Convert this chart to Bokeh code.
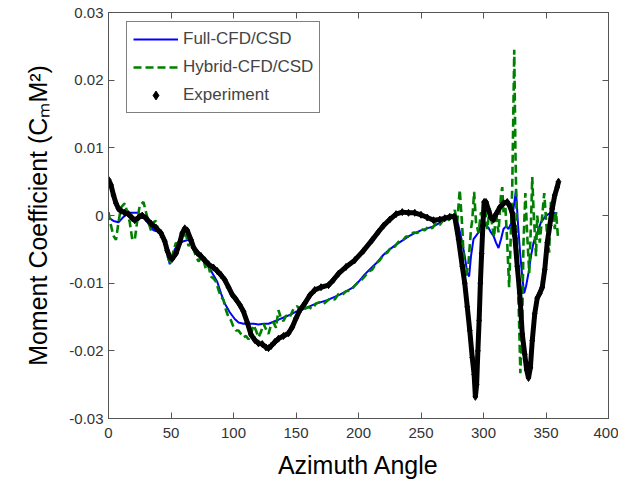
from bokeh.plotting import figure
from bokeh.models import (Range1d, LinearAxis, FixedTicker, CustomJSTickFormatter,
                          Legend, LegendItem)
from bokeh.embed import file_html
from bokeh.resources import INLINE

# ---------------- data ----------------
exp_angle = [0, 2, 4, 6, 8, 10, 13, 16, 19, 21, 24, 27, 30, 34, 38, 42, 45, 47, 49, 51,
             54, 57, 59, 61, 63, 66, 68, 71, 74, 77, 80, 84, 87, 90, 93, 96, 99, 102, 105, 108,
             111, 114, 117, 120, 123, 126, 128, 130, 133, 136, 140, 144, 147, 150, 153, 157, 161, 165, 170, 176,
             180, 184, 190, 197, 204, 211, 216, 220, 225, 230, 235, 240, 245, 250, 255, 260, 265, 269, 273, 277,
             280, 283, 285, 287, 289, 291, 292.5, 293.5, 294.5, 295.5, 296.5, 297.5, 298.5, 299.5, 300.5,
             302, 304, 306, 308, 310, 313, 316, 319, 321, 323, 325, 327, 329, 331, 333, 334.5, 336, 337.5,
             339, 341, 343, 345, 347, 349, 351, 353, 355, 357, 359, 360]
exp_cm = [0.0053, 0.0045, 0.0030, 0.0018, 0.0010, 0.0007, 0.0004, 0.0002, -0.0004, -0.0007,
          -0.0003, 0.0000, -0.0004, -0.0012, -0.0018, -0.0026, -0.0038, -0.0052, -0.0061, -0.0064,
          -0.0056, -0.0040, -0.0026, -0.0019, -0.0022, -0.0036, -0.0047, -0.0055, -0.0060, -0.0066,
          -0.0072, -0.0077, -0.0082, -0.0088, -0.0095, -0.0106, -0.0117, -0.0124, -0.0132, -0.0142,
          -0.0158, -0.0176, -0.0184, -0.0189, -0.0190, -0.0195, -0.0196, -0.0193, -0.0187, -0.0182,
          -0.0178, -0.0174, -0.0165, -0.0152, -0.0140, -0.0130, -0.0118, -0.0110, -0.0106, -0.0103,
          -0.0095, -0.0086, -0.0076, -0.0066, -0.0052, -0.0036, -0.0024, -0.0015, -0.0006, 0.0002,
          0.0005, 0.0004, 0.0004, 0.0001, -0.0003, -0.0007, -0.0006, -0.0004, -0.0002, -0.0002,
          -0.0035, -0.0075, -0.0100, -0.0135, -0.0170, -0.0210, -0.0235, -0.0268, -0.0250, -0.0200,
          -0.0155, -0.0100, -0.0056, -0.0015, 0.0020,
          0.0020, 0.0008, -0.0003, -0.0006, 0.0002, 0.0012, 0.0018, 0.0020, 0.0014, 0.0004,
          -0.0030, -0.0075, -0.0115, -0.0175, -0.0205, -0.0228, -0.0240, -0.0225,
          -0.0185, -0.0145, -0.0122, -0.0115, -0.0106, -0.0080, -0.0040, -0.0015, 0.0010, 0.0030,
          0.0042, 0.0050]

full_angle = [0, 4, 8, 12, 16, 20, 24, 28, 32, 36, 40, 43, 46, 49, 51, 53, 56, 60, 64, 67,
              71, 75, 79, 83, 87, 90, 93, 97, 101, 104, 108, 112, 116, 120, 124, 128, 132, 136, 141, 146,
              150, 155, 160, 165, 170, 175, 180, 185, 190, 195, 200, 205, 210, 215, 220, 225, 230, 235, 240, 245,
              250, 255, 260, 265, 270, 274, 277, 280, 283, 285, 287, 288.5, 290, 292, 294, 296, 298, 300,
              302, 304, 306, 308, 310, 312, 314, 316, 318, 320, 322, 324, 326, 327.5, 329.5, 331, 332.5,
              334, 336, 338, 340, 342, 344, 346, 348, 350, 353, 356, 359]
full_cm = [-0.0003, -0.0008, -0.0010, -0.0002, 0.0004, 0.0004, 0.0004, -0.0002, -0.0012, -0.0022,
           -0.0024, -0.0030, -0.0050, -0.0072, -0.0062, -0.0050, -0.0042, -0.0038, -0.0036, -0.0045,
           -0.0058, -0.0066, -0.0072, -0.0085, -0.0098, -0.0115, -0.0130, -0.0143, -0.0153, -0.0158,
           -0.0160, -0.0160, -0.0160, -0.0161, -0.0160, -0.0160, -0.0157, -0.0154, -0.0150, -0.0146,
           -0.0142, -0.0139, -0.0135, -0.0131, -0.0128, -0.0125, -0.0121, -0.0117, -0.0112, -0.0107,
           -0.0098, -0.0087, -0.0078, -0.0069, -0.0058, -0.0050, -0.0043, -0.0037, -0.0031, -0.0026,
           -0.0022, -0.0019, -0.0016, -0.0011, -0.0006, -0.0002, 0.0003, -0.0015, -0.0040, -0.0060,
           -0.0085, -0.0090, -0.0060, -0.0035, -0.0030, -0.0025, -0.0012, -0.0008,
           -0.0015, -0.0018, -0.0025, -0.0030, -0.0040, -0.0048, -0.0035, -0.0020, -0.0016, -0.0020,
           -0.0012, 0.0010, 0.0038, -0.0010, -0.0060, -0.0090, -0.0115,
           -0.0105, -0.0085, -0.0060, -0.0040, -0.0030, -0.0020, -0.0010, -0.0005, 0.0000, 0.0003,
           0.0004, 0.0003]

hyb_angle = [0, 2, 4, 6, 8, 10, 13, 15, 17, 19, 21, 23, 25, 28, 30, 32, 34, 36, 38, 40,
             42, 44, 46, 48, 50, 52, 54, 56, 58, 60, 62, 64, 66, 68, 70, 72, 74, 76, 78, 80,
             82, 84, 86, 88, 90, 92, 94, 96, 98, 100, 102, 104, 106, 108, 110, 112, 114, 116, 118, 120,
             122, 124, 126, 128, 130, 132, 134, 136, 138, 140, 142, 145, 148, 151, 154, 157, 160, 163, 166, 169,
             172, 175, 178, 181, 184, 187, 190, 193, 196, 199, 202, 205, 208, 211, 214, 217, 220, 223, 226, 229,
             232, 235, 238, 241, 244, 247, 250, 253, 256, 259, 262, 265, 268, 271, 274, 277, 279, 281, 283, 285,
             287, 288, 290, 291, 292.5, 294, 296, 298, 299, 301, 303, 305, 307, 308.5, 310, 312, 314, 315, 316,
             317.5, 319, 320.5, 322, 323, 324.6, 325.5, 327, 328.5, 329.5, 331, 332, 333.5, 335, 336.6, 338,
             339, 340, 341, 342, 343, 345, 346.5, 348.6, 350, 351, 352.5, 354, 356, 357, 358, 359.5]
hyb_cm = [0.0005, -0.0015, -0.0030, -0.0036, -0.0010, 0.0012, 0.0018, 0.0005, -0.0010, -0.0035,
          -0.0036, -0.0008, 0.0015, 0.0020, 0.0005, -0.0010, -0.0022, -0.0010, -0.0008, -0.0025,
          -0.0032, -0.0030, -0.0048, -0.0065, -0.0070, -0.0052, -0.0040, -0.0048, -0.0035, -0.0030,
          -0.0028, -0.0045, -0.0040, -0.0050, -0.0060, -0.0068, -0.0062, -0.0066, -0.0080, -0.0075,
          -0.0090, -0.0093, -0.0098, -0.0110, -0.0120, -0.0125, -0.0140, -0.0150, -0.0155, -0.0165,
          -0.0170, -0.0170, -0.0175, -0.0180, -0.0178, -0.0183, -0.0175, -0.0162, -0.0170, -0.0180,
          -0.0172, -0.0160, -0.0168, -0.0175, -0.0162, -0.0158, -0.0166, -0.0140, -0.0152, -0.0156,
          -0.0148, -0.0150, -0.0138, -0.0134, -0.0142, -0.0138, -0.0135, -0.0138, -0.0130, -0.0128,
          -0.0131, -0.0126, -0.0122, -0.0124, -0.0116, -0.0117, -0.0112, -0.0111, -0.0106, -0.0100,
          -0.0096, -0.0090, -0.0083, -0.0080, -0.0071, -0.0066, -0.0058, -0.0055, -0.0047, -0.0046,
          -0.0039, -0.0038, -0.0031, -0.0031, -0.0025, -0.0026, -0.0020, -0.0022, -0.0016, -0.0019,
          -0.0011, -0.0014, -0.0006, -0.0009, -0.0001, 0.0008, -0.0010, 0.0038, -0.0017, -0.0098,
          -0.0080, -0.0070, -0.0020, -0.0007, 0.0035, -0.0010, -0.0026, 0.0005, -0.0002, 0.0015,
          -0.0020, 0.0010, -0.0015, -0.0032, 0.0005, -0.0025, 0.0030, 0.0042, 0.0005,
          0.0013, -0.0040, -0.0106, -0.0020, 0.0042, 0.0245, 0.0100, -0.0056, -0.0160, -0.0233,
          -0.0158, -0.0040, 0.0033, -0.0030, -0.0085, -0.0010,
          0.0057, 0.0010, -0.0026, -0.0060, 0.0000, -0.0040, -0.0010, 0.0033, -0.0005, -0.0032,
          -0.0055, 0.0023, 0.0000, -0.0020, 0.0005, -0.0030]

x_ticks = [0, 50, 100, 150, 200, 250, 300, 350, 400]
y_ticks = [-0.03, -0.02, -0.01, 0, 0.01, 0.02, 0.03]

FONT = "Liberation Sans"
AX_COLOR = "#555555"

p = figure(frame_width=500, frame_height=406, output_backend="svg", toolbar_location=None,
           x_range=Range1d(0, 400), y_range=Range1d(-0.03, 0.03),
           min_border_left=108, min_border_right=10, min_border_top=12, min_border_bottom=55,
           x_axis_label="Azimuth Angle",
           y_axis_label="Moment Coefficient (C\u2098M\u00b2)")
p.xgrid.visible = False
p.ygrid.visible = False
p.outline_line_color = AX_COLOR
p.background_fill_color = "white"
p.border_fill_color = "white"

fmt = CustomJSTickFormatter(code="return tick.toFixed(2).replace(/\\.?0+$/, '');")

for ax in (p.xaxis[0], p.yaxis[0]):
    ax.major_tick_in = 6
    ax.major_tick_out = 0
    ax.minor_tick_line_color = None
    ax.axis_line_color = AX_COLOR
    ax.major_tick_line_color = AX_COLOR
    ax.major_label_text_font = FONT
    ax.major_label_text_font_size = "15px"
    ax.major_label_text_color = "#333333"
    ax.axis_label_text_font = FONT
    ax.axis_label_text_font_size = "25px"
    ax.axis_label_text_font_style = "normal"
    ax.axis_label_text_color = "black"

p.xaxis[0].ticker = FixedTicker(ticks=x_ticks)
p.yaxis[0].ticker = FixedTicker(ticks=y_ticks)
p.yaxis[0].formatter = fmt
p.yaxis[0].major_label_standoff = 5
p.yaxis[0].axis_label_standoff = 14
p.xaxis[0].major_label_standoff = 9
p.xaxis[0].axis_label_standoff = 10

# box axes (top and right) with inward ticks, empty labels
blank = CustomJSTickFormatter(code="return '';")
for side, ticks in (("right", y_ticks), ("above", x_ticks)):
    ax = LinearAxis(ticker=FixedTicker(ticks=ticks), formatter=blank,
                    major_tick_in=6, major_tick_out=0,
                    minor_tick_line_color=None, axis_line_color=AX_COLOR,
                    major_tick_line_color=AX_COLOR, major_label_text_font_size="2px",
                    major_label_standoff=0, axis_label=None)
    p.add_layout(ax, side)

# data
r_full = p.line(full_angle, full_cm, line_color="#0000FF", line_width=2)
r_hyb = p.line(hyb_angle, hyb_cm, line_color="#008000", line_width=2.6, line_dash="8 4")
p.line(exp_angle, exp_cm, line_color="black", line_width=5)
r_exp = p.scatter(exp_angle, exp_cm, marker="diamond", size=7, fill_color="black",
                  line_color="black")

legend = Legend(items=[LegendItem(label="Full-CFD/CSD", renderers=[r_full]),
                       LegendItem(label="Hybrid-CFD/CSD", renderers=[r_hyb]),
                       LegendItem(label="Experiment", renderers=[r_exp])],
                location=(18, 305), border_line_color="black", border_line_width=1,
                background_fill_color="white", background_fill_alpha=1,
                label_text_font=FONT, label_text_font_size="17px",
                glyph_width=45, glyph_height=22, label_height=22, label_standoff=5,
                spacing=6, padding=6, margin=0)
p.add_layout(legend, "center")

open("out.html", "w").write(file_html(p, INLINE))
